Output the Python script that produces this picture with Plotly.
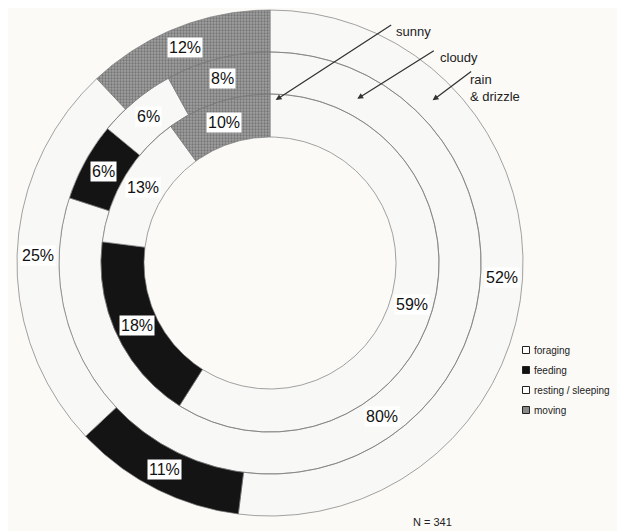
import numpy as np
import plotly.graph_objects as go

# ---- data ----
categories = ["foraging", "feeding", "resting / sleeping", "moving"]
conditions = ["sunny", "cloudy", "rain<br>& drizzle"]
sunny = [59, 18, 13, 10]
cloudy = [80, 6, 6, 8]
rain = [52, 11, 25, 12]
n_total = 341

rings = [sunny, cloudy, rain]          # inner -> outer

# ---- layout / style ----
W, H = 625, 531
PAGE_MARGIN = 8                        # browser body margin
CX, CY = 270, 263                      # pixel centre on screen
radii = [126, 169, 211, 253]           # ring boundaries (inner -> outer)
fills = ["#f8f8f7", "#141414", "#f8f8f7", "#8f8f8f"]
FONT = "Liberation Sans, Arial, sans-serif"


def pt(r, ang):
    a = np.deg2rad(ang)
    return r * np.sin(a), r * np.cos(a)


def segment(r0, r1, a0, a1):
    n = max(int(abs(a1 - a0) * 2), 4)
    t = np.linspace(a0, a1, n)
    xo, yo = pt(r1, t)
    xi, yi = pt(r0, t[::-1])
    xs = list(xo) + list(xi) + [xo[0]]
    ys = list(yo) + list(yi) + [yo[0]]
    return xs, ys


fig = go.Figure()
annotations = []

for ci, cat in enumerate(categories):
    X, Y = [], []
    for ri, vals in enumerate(rings):
        start = sum(vals[:ci]) * 3.6
        end = start + vals[ci] * 3.6
        xs, ys = segment(radii[ri], radii[ri + 1], start, end)
        X += xs + [None]
        Y += ys + [None]
        mid = (start + end) / 2
        mx, my = pt((radii[ri] + radii[ri + 1]) / 2, mid)
        annotations.append(dict(
            x=mx, y=my, xref="x", yref="y", text=f"{vals[ci]}%",
            showarrow=False, bgcolor="white", borderpad=1,
            font=dict(family=FONT, size=16, color="#111")))
    kw = dict(fill="toself", fillcolor=fills[ci], mode="lines",
              line=dict(color="#7a7a7a", width=0.7), hoverinfo="skip",
              showlegend=False)
    if cat == "moving":
        kw["fillpattern"] = dict(shape=".", fgcolor="#4a4a4a",
                                 bgcolor="#a0a0a0", size=3, solidity=0.45)
    fig.add_trace(go.Scatter(x=X, y=Y, **kw))

# legend (markers + text)
leg_fill = ["white", "#111111", "white", "#8a8a8a"]
LEG_X, LEG_Y0, LEG_DY = 526, 350, 20
leg_x = [LEG_X - CX] * len(categories)
leg_y = [CY - (LEG_Y0 + i * LEG_DY) for i in range(len(categories))]
fig.add_trace(go.Scatter(
    x=leg_x, y=leg_y, mode="markers", showlegend=False, hoverinfo="skip",
    marker=dict(symbol="square", size=7, color=leg_fill,
                line=dict(color="#222", width=1))))
for i, cat in enumerate(categories):
    annotations.append(dict(
        x=leg_x[i] + 6, y=leg_y[i], xref="x", yref="y", text=cat,
        showarrow=False, xanchor="left",
        font=dict(family=FONT, size=10, color="#222")))

# condition arrows (tip on ring, tail offset in px)
arrow_ang = [2, 28, 45]
arrow_r = [163, 186, 230]
tails = [(117, -76), (78, -49), (40, -30)]
for i, cond in enumerate(conditions):
    tx, ty = pt(arrow_r[i], arrow_ang[i])
    annotations.append(dict(
        x=tx, y=ty, xref="x", yref="y", ax=tails[i][0], ay=tails[i][1],
        showarrow=True, arrowhead=2, arrowsize=0.9, arrowwidth=1.3,
        arrowcolor="#333", text=""))
label_pos = [(394, 31), (438, 57), (468, 88)]
for i, cond in enumerate(conditions):
    annotations.append(dict(
        x=label_pos[i][0] - CX, y=CY - label_pos[i][1], xref="x", yref="y",
        text=cond, showarrow=False, xanchor="left", align="left",
        font=dict(family=FONT, size=13, color="#222")))

annotations.append(dict(
    x=432 - CX, y=CY - 522, xref="x", yref="y", text=f"N = {n_total}",
    showarrow=False, font=dict(family=FONT, size=11, color="#222")))

FW, FH = W - PAGE_MARGIN, H - PAGE_MARGIN
cx, cy = CX - PAGE_MARGIN, CY - PAGE_MARGIN
fig.update_layout(
    width=FW, height=FH,
    margin=dict(l=0, r=0, t=0, b=0, pad=0, autoexpand=False),
    paper_bgcolor="#fbfaf7", plot_bgcolor="#fbfaf7",
    xaxis=dict(range=[-cx, FW - cx], visible=False, fixedrange=True),
    yaxis=dict(range=[cy - FH, cy], visible=False, fixedrange=True),
    annotations=annotations,
    showlegend=False,
)

fig.write_html("out.html")
